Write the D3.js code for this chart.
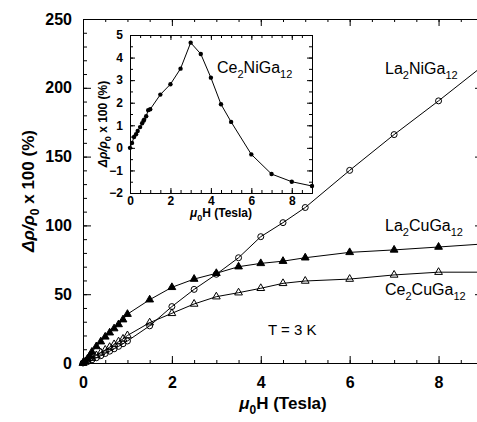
<!DOCTYPE html>
<html><head><meta charset="utf-8">
<script src="https://cdn.jsdelivr.net/npm/d3@7"></script>
<style>body{margin:0;background:#fff}svg{display:block}text{font-family:"Liberation Sans",Arial,sans-serif}</style>
</head><body><svg id="c" width="477" height="422"></svg>
<script>
// ---- data ----
const laNiField = [0,0.1,0.2,0.3,0.4,0.5,0.6,0.7,0.8,0.9,1.0,1.5,2.0,2.5,3.0,3.5,4.0,4.5,5.0,6,7,8,9];
const laNiMR    = [0,1,2.3,3.8,5.3,6.9,8.6,10.3,12.1,14,16,27,41,53.5,64.5,76.5,91.8,102,113,140,166,190.5,216];
const laCuField = [0,0.05,0.1,0.15,0.2,0.3,0.4,0.5,0.6,0.7,0.8,0.9,1.0,1.5,2.0,2.5,3.0,3.5,4.0,4.5,5.0,6,7,8,9];
const laCuMR    = [0,1,3,5,8,12,15.5,19,22,25,28,31.5,35.5,46,55,61,65.2,70,72.4,74,76.5,80.4,82.2,84.3,86.5];
const ceCuField = [0,0.1,0.2,0.3,0.4,0.5,0.6,0.7,0.8,0.9,1.0,1.5,2.0,2.5,3.0,3.5,4.0,4.5,5.0,6,7,8,9];
const ceCuMR    = [0,1.5,3.5,5.5,7.5,9.5,11.5,13.5,15.5,17.5,20,29.3,36.1,42.9,48.2,51.1,54.3,57.9,59.6,61,64,66,66];
const ceNiField = [0,0.1,0.2,0.3,0.38,0.5,0.6,0.67,0.7,0.8,0.9,1.0,1.5,2.0,2.5,3.0,3.5,4.0,4.5,5.0,6,7,8,9];
const ceNiMR    = [0,0.22,0.48,0.6,0.75,0.92,1.09,1.2,1.25,1.4,1.67,1.71,2.36,2.82,3.51,4.66,4.16,3.11,1.93,1.15,-0.29,-1.16,-1.5,-1.69];
const mainXTicks = [0,2,4,6,8];
const mainYTicks = [0,50,100,150,200,250];
const insetXTicks = [0,2,4,6,8];
const insetYTicks = [-2,-1,0,1,2,3,4,5];

const svg = d3.select("#c");
const F = '"Liberation Sans",Arial,sans-serif';

// ---- main scales ----
const x = d3.scaleLinear().domain([0,9]).range([83,483]);
const y = d3.scaleLinear().domain([0,250]).range([363,19]);

function axisStyle(g){ g.selectAll("path,line").attr("stroke","#000").attr("stroke-width",1); g.selectAll("text").attr("font-family",F); }

// minor ticks
svg.append("g").attr("transform","translate(83,0)")
  .call(d3.axisLeft(y).tickValues(d3.range(0,251,10)).tickSize(-4).tickSizeOuter(0).tickFormat(""))
  .call(axisStyle);
svg.append("g").attr("transform","translate(483,0)")
  .call(d3.axisRight(y).tickValues(d3.range(0,251,10)).tickSize(-4).tickSizeOuter(0).tickFormat(""))
  .call(axisStyle);
svg.append("g").attr("transform","translate(0,363)")
  .call(d3.axisBottom(x).tickValues(d3.range(0,9.01,0.5)).tickSize(-3).tickSizeOuter(0).tickFormat(""))
  .call(axisStyle);
svg.append("g").attr("transform","translate(0,19)")
  .call(d3.axisTop(x).tickValues(d3.range(0,9.01,0.5)).tickSize(-3).tickSizeOuter(0).tickFormat(""))
  .call(axisStyle);
// major ticks
svg.append("g").attr("transform","translate(83,0)")
  .call(d3.axisLeft(y).tickValues(mainYTicks).tickSize(-8).tickSizeOuter(0).tickPadding(11).tickFormat(d3.format("d")))
  .call(axisStyle)
  .call(g=>g.selectAll("text").attr("font-size",16).attr("font-weight","bold"));
svg.append("g").attr("transform","translate(483,0)")
  .call(d3.axisRight(y).tickValues(mainYTicks).tickSize(-8).tickSizeOuter(0).tickFormat(""))
  .call(axisStyle);
svg.append("g").attr("transform","translate(0,363)")
  .call(d3.axisBottom(x).tickValues(mainXTicks).tickSize(-7).tickSizeOuter(0).tickPadding(14).tickFormat(d3.format("d")))
  .call(axisStyle)
  .call(g=>g.selectAll("text").attr("font-size",16).attr("font-weight","bold"));
svg.append("g").attr("transform","translate(0,19)")
  .call(d3.axisTop(x).tickValues(mainXTicks).tickSize(-7).tickSizeOuter(0).tickFormat(""))
  .call(axisStyle);

// ---- series ----
function series(fx, fy, xs, ys, kind){
  const pts = fx.map((v,i)=>[xs(v), ys(fy[i])]);
  svg.append("path").attr("d", d3.line()(pts)).attr("fill","none").attr("stroke","#000").attr("stroke-width",1);
  const g = svg.append("g");
  pts.forEach(p=>{
    if(kind==="circle") g.append("circle").attr("cx",p[0]).attr("cy",p[1]).attr("r",3).attr("fill","none").attr("stroke","#000").attr("stroke-width",1);
    else if(kind==="dot") g.append("circle").attr("cx",p[0]).attr("cy",p[1]).attr("r",2.2).attr("fill","#000");
    else g.append("path").attr("d", d3.symbol(d3.symbolTriangle, 26)()).attr("transform",`translate(${p[0]},${p[1]})`)
      .attr("fill", kind==="tri" ? "#000" : "none").attr("stroke","#000").attr("stroke-width",1);
  });
}
series(laNiField, laNiMR, x, y, "circle");
series(laCuField, laCuMR, x, y, "tri");
series(ceCuField, ceCuMR, x, y, "otri");

// labels with subscripts
function formula(xp, yp, parts, size, sub){
  const t = svg.append("text").attr("x",xp).attr("y",yp).attr("font-size",size).attr("font-family",F);
  parts.forEach((p,i)=>{
    const isSub = i%2===1;
    t.append("tspan").text(p).attr("font-size", isSub?sub:size).attr("dy", i===0?0:(isSub? 5 : -5));
  });
  return t;
}
formula(385,74,["La","2","NiGa","12"],16,11);
formula(385,231,["La","2","CuGa","12"],16,11);
formula(385,295,["Ce","2","CuGa","12"],16,11);
svg.append("text").attr("x",268).attr("y",335).attr("font-size",15).attr("font-family",F).text("T = 3 K");

// main axis titles
const xt = svg.append("text").attr("x",283).attr("y",409).attr("text-anchor","middle").attr("font-size",17).attr("font-weight","bold").attr("font-family",F);
xt.append("tspan").text("μ").attr("font-style","italic");
xt.append("tspan").text("0").attr("font-size",12).attr("dy",5);
xt.append("tspan").text("H (Tesla)").attr("dy",-5);

const yt = svg.append("text").attr("transform","translate(34,191) rotate(-90)").attr("text-anchor","middle").attr("font-size",17).attr("font-weight","bold").attr("font-family",F);
yt.append("tspan").text("Δρ/ρ").attr("font-style","italic");
yt.append("tspan").text("0").attr("font-size",12).attr("dy",5);
yt.append("tspan").text(" x 100 (%)").attr("dy",-5);

// ---- inset ----
const ix = d3.scaleLinear().domain([0,9]).range([130,312]);
const iy = d3.scaleLinear().domain([-2,5]).range([193,35]);
svg.append("rect").attr("x",130).attr("y",35).attr("width",182).attr("height",158).attr("fill","#fff").attr("stroke","none");
svg.append("g").attr("transform","translate(130,0)")
  .call(d3.axisLeft(iy).tickValues(d3.range(-2,5.01,0.5)).tickSize(-3).tickSizeOuter(0).tickFormat("")).call(axisStyle);
svg.append("g").attr("transform","translate(312,0)")
  .call(d3.axisRight(iy).tickValues(d3.range(-2,5.01,0.5)).tickSize(-3).tickSizeOuter(0).tickFormat("")).call(axisStyle);
svg.append("g").attr("transform","translate(0,193)")
  .call(d3.axisBottom(ix).tickValues(d3.range(0,9.01,0.5)).tickSize(-3).tickSizeOuter(0).tickFormat("")).call(axisStyle);
svg.append("g").attr("transform","translate(0,35)")
  .call(d3.axisTop(ix).tickValues(d3.range(0,9.01,0.5)).tickSize(-3).tickSizeOuter(0).tickFormat("")).call(axisStyle);
svg.append("g").attr("transform","translate(130,0)")
  .call(d3.axisLeft(iy).tickValues(insetYTicks).tickSize(-5).tickSizeOuter(0).tickPadding(7).tickFormat(d3.format("d"))).call(axisStyle)
  .call(g=>g.selectAll("text").attr("font-size",12).attr("font-weight","bold"));
svg.append("g").attr("transform","translate(312,0)")
  .call(d3.axisRight(iy).tickValues(insetYTicks).tickSize(-5).tickSizeOuter(0).tickFormat("")).call(axisStyle);
svg.append("g").attr("transform","translate(0,193)")
  .call(d3.axisBottom(ix).tickValues(insetXTicks).tickSize(-5).tickSizeOuter(0).tickPadding(3).tickFormat(d3.format("d"))).call(axisStyle)
  .call(g=>g.selectAll("text").attr("font-size",12).attr("font-weight","bold"));
svg.append("g").attr("transform","translate(0,35)")
  .call(d3.axisTop(ix).tickValues(insetXTicks).tickSize(-5).tickSizeOuter(0).tickFormat("")).call(axisStyle);

series(ceNiField, ceNiMR, ix, iy, "dot");
formula(217,73,["Ce","2","NiGa","12"],16,11);

const ixt = svg.append("text").attr("x",221).attr("y",217).attr("text-anchor","middle").attr("font-size",12).attr("font-weight","bold").attr("font-family",F);
ixt.append("tspan").text("μ").attr("font-style","italic");
ixt.append("tspan").text("0").attr("font-size",9).attr("dy",4);
ixt.append("tspan").text("H (Tesla)").attr("dy",-4);

const iyt = svg.append("text").attr("transform","translate(107,124) rotate(-90)").attr("text-anchor","middle").attr("font-size",12).attr("font-weight","bold").attr("font-family",F);
iyt.append("tspan").text("Δρ/ρ").attr("font-style","italic");
iyt.append("tspan").text("0").attr("font-size",9).attr("dy",4);
iyt.append("tspan").text(" x 100 (%)").attr("dy",-4);
</script></body></html>
